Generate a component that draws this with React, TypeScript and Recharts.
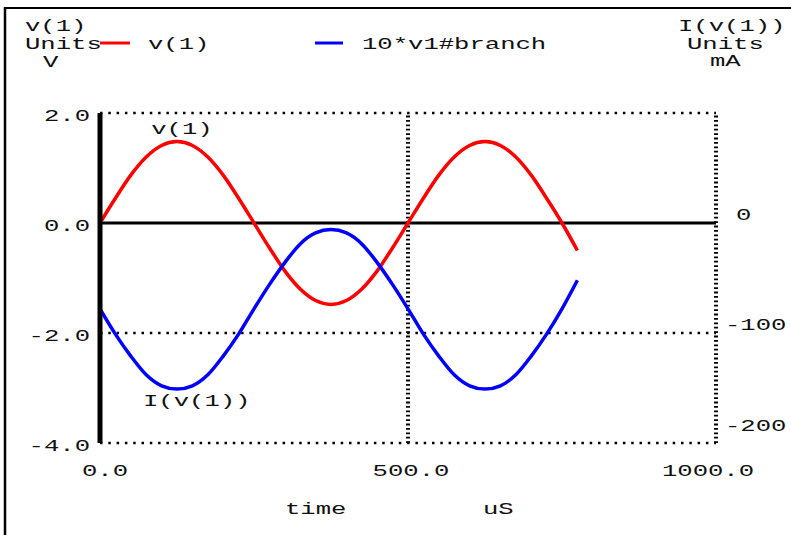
import React from 'react';
import {
  LineChart,
  Line,
  XAxis,
  YAxis,
  ReferenceLine,
  ReferenceDot,
  Customized,
} from 'recharts';

// ---- data ----
const timeUs = [
  0, 25, 50, 75, 100, 125, 150, 175, 200, 225, 250, 275, 300, 325, 350, 375,
  400, 425, 450, 475, 500, 525, 550, 575, 600, 625, 650, 675, 700, 725, 750, 775,
];
const v1Volts = [
  0, 0.45, 0.87, 1.2, 1.41, 1.48, 1.41, 1.2, 0.87, 0.45, 0, -0.45, -0.87, -1.2,
  -1.41, -1.48, -1.41, -1.2, -0.87, -0.45, 0, 0.45, 0.87, 1.2, 1.41, 1.48, 1.41,
  1.2, 0.87, 0.45, 0, -0.5,
];
const branchMa = [
  -78, -101, -121, -138, -148, -151, -148, -138, -121, -101, -78, -56, -36, -19,
  -9, -6, -9, -19, -36, -56, -78, -101, -121, -138, -148, -151, -148, -138, -121,
  -101, -78, -52,
];
const xTicks = [0, 500, 1000];
const leftTicks = [2, 0, -2, -4];
const rightTicks = [0, -100, -200];
const dottedY = [2, -2, -4];
const dashedX = [500, 1000];
const seriesNames = ['v(1)', '10*v1#branch'];

const data = timeUs.map((t, k) => ({ t, v: v1Volts[k], i: branchMa[k] }));

// ---- text styling: wide, thin monospace look ----
const FONT = '"Liberation Mono", "DejaVu Sans Mono", monospace';
const FS = 16;
const SX = 1.6;
const CAP = 5.5; // half cap height, to centre text vertically

function ST({ x, y, children, anchor = 'start', fill = '#111' }: any) {
  return (
    <text
      transform={`translate(${x},${y + CAP}) scale(${SX},1)`}
      textAnchor={anchor}
      fontFamily={FONT}
      fontSize={FS}
      fill={fill}
    >
      {children}
    </text>
  );
}

const LeftTick = (p: any) => (
  <ST x={p.x - 10} y={p.y + 2} anchor="end">
    {Number(p.payload.value).toFixed(1)}
  </ST>
);

const RightTick = (p: any) => {
  const v = p.payload.value;
  const dy = v === -200 ? -18 : -9;
  const dx = v === 0 ? 20 : 9;
  return (
    <ST x={p.x + dx} y={p.y + dy}>
      {String(v)}
    </ST>
  );
};

const XTick = (p: any) => {
  const v = p.payload.value;
  const dx = v === 0 ? 5 : v === 1000 ? -8 : 3;
  return (
    <ST x={p.x + dx} y={p.y + 27} anchor="middle">
      {Number(v).toFixed(1)}
    </ST>
  );
};

const Decor = () => (
  <g>
    {/* outer frame */}
    <line x1={4} y1={8} x2={791} y2={8} stroke="#000" strokeWidth={2} />
    <line x1={5} y1={7} x2={5} y2={535} stroke="#000" strokeWidth={2.5} />
    {/* left axis title */}
    <ST x={25} y={25}>v(1)</ST>
    <ST x={25} y={43}>Units</ST>
    <ST x={43} y={61}>V</ST>
    {/* legend */}
    <line x1={100} y1={43} x2={130} y2={43} stroke="#ff0000" strokeWidth={3} />
    <ST x={148} y={43}>{seriesNames[0]}</ST>
    <line x1={315} y1={43} x2={343} y2={43} stroke="#0000ff" strokeWidth={3} />
    <ST x={362} y={43}>{seriesNames[1]}</ST>
    {/* right axis title */}
    <ST x={678} y={25}>I(v(1))</ST>
    <ST x={687} y={43}>Units</ST>
    <ST x={710} y={60}>mA</ST>
    {/* x axis title */}
    <ST x={285} y={508}>time</ST>
    <ST x={483} y={508}>uS</ST>
  </g>
);

export default function App() {
  return (
    <div style={{ position: 'absolute', left: 0, top: 0, background: '#fff' }}>
      <LineChart
        width={791}
        height={535}
        data={data}
        margin={{ top: 113, right: 0, bottom: 32, left: 20 }}
        style={{ background: '#fff' }}
      >
        <XAxis
          dataKey="t"
          type="number"
          domain={[0, 1000]}
          ticks={xTicks}
          axisLine={false}
          tickLine={false}
          tickSize={0}
          tickMargin={0}
          height={60}
          tick={XTick}
          xAxisId="x"
        />
        <YAxis
          yAxisId="v"
          domain={[-4, 2]}
          ticks={leftTicks}
          width={80}
          axisLine={{ stroke: '#000', strokeWidth: 5 }}
          tickLine={false}
          tickSize={0}
          tickMargin={0}
          tick={LeftTick}
        />
        <YAxis
          yAxisId="i"
          orientation="right"
          domain={[-200, 100]}
          ticks={rightTicks}
          width={75}
          axisLine={false}
          tickLine={false}
          tickSize={0}
          tickMargin={0}
          tick={RightTick}
        />
        {dottedY.map((y) => (
          <ReferenceLine
            key={'h' + y}
            xAxisId="x"
            yAxisId="v"
            y={y}
            stroke="#000"
            strokeWidth={2.5}
            strokeDasharray="2.5 5.8"
          />
        ))}
        {dashedX.map((x) => (
          <ReferenceLine
            key={'v' + x}
            xAxisId="x"
            yAxisId="v"
            x={x}
            stroke="#000"
            strokeWidth={4}
            strokeDasharray="1.8 2.6"
          />
        ))}
        <ReferenceLine xAxisId="x" yAxisId="v" y={0} stroke="#000" strokeWidth={3} />
        <Line
          xAxisId="x"
          yAxisId="v"
          dataKey="v"
          name={seriesNames[0]}
          stroke="#ff0000"
          strokeWidth={3.5}
          dot={false}
          type="monotoneX"
          isAnimationActive={false}
        />
        <Line
          xAxisId="x"
          yAxisId="i"
          dataKey="i"
          name={seriesNames[1]}
          stroke="#0000ff"
          strokeWidth={3.5}
          dot={false}
          type="monotoneX"
          isAnimationActive={false}
        />
        <ReferenceDot
          xAxisId="x"
          yAxisId="v"
          x={133}
          y={1.71}
          r={0}
          shape={(p: any) => (
            <ST x={p.cx} y={p.cy} anchor="middle">
              v(1)
            </ST>
          )}
        />
        <ReferenceDot
          xAxisId="x"
          yAxisId="v"
          x={157}
          y={-3.22}
          r={0}
          shape={(p: any) => (
            <ST x={p.cx} y={p.cy} anchor="middle">
              I(v(1))
            </ST>
          )}
        />
        <Customized component={Decor} />
      </LineChart>
    </div>
  );
}
